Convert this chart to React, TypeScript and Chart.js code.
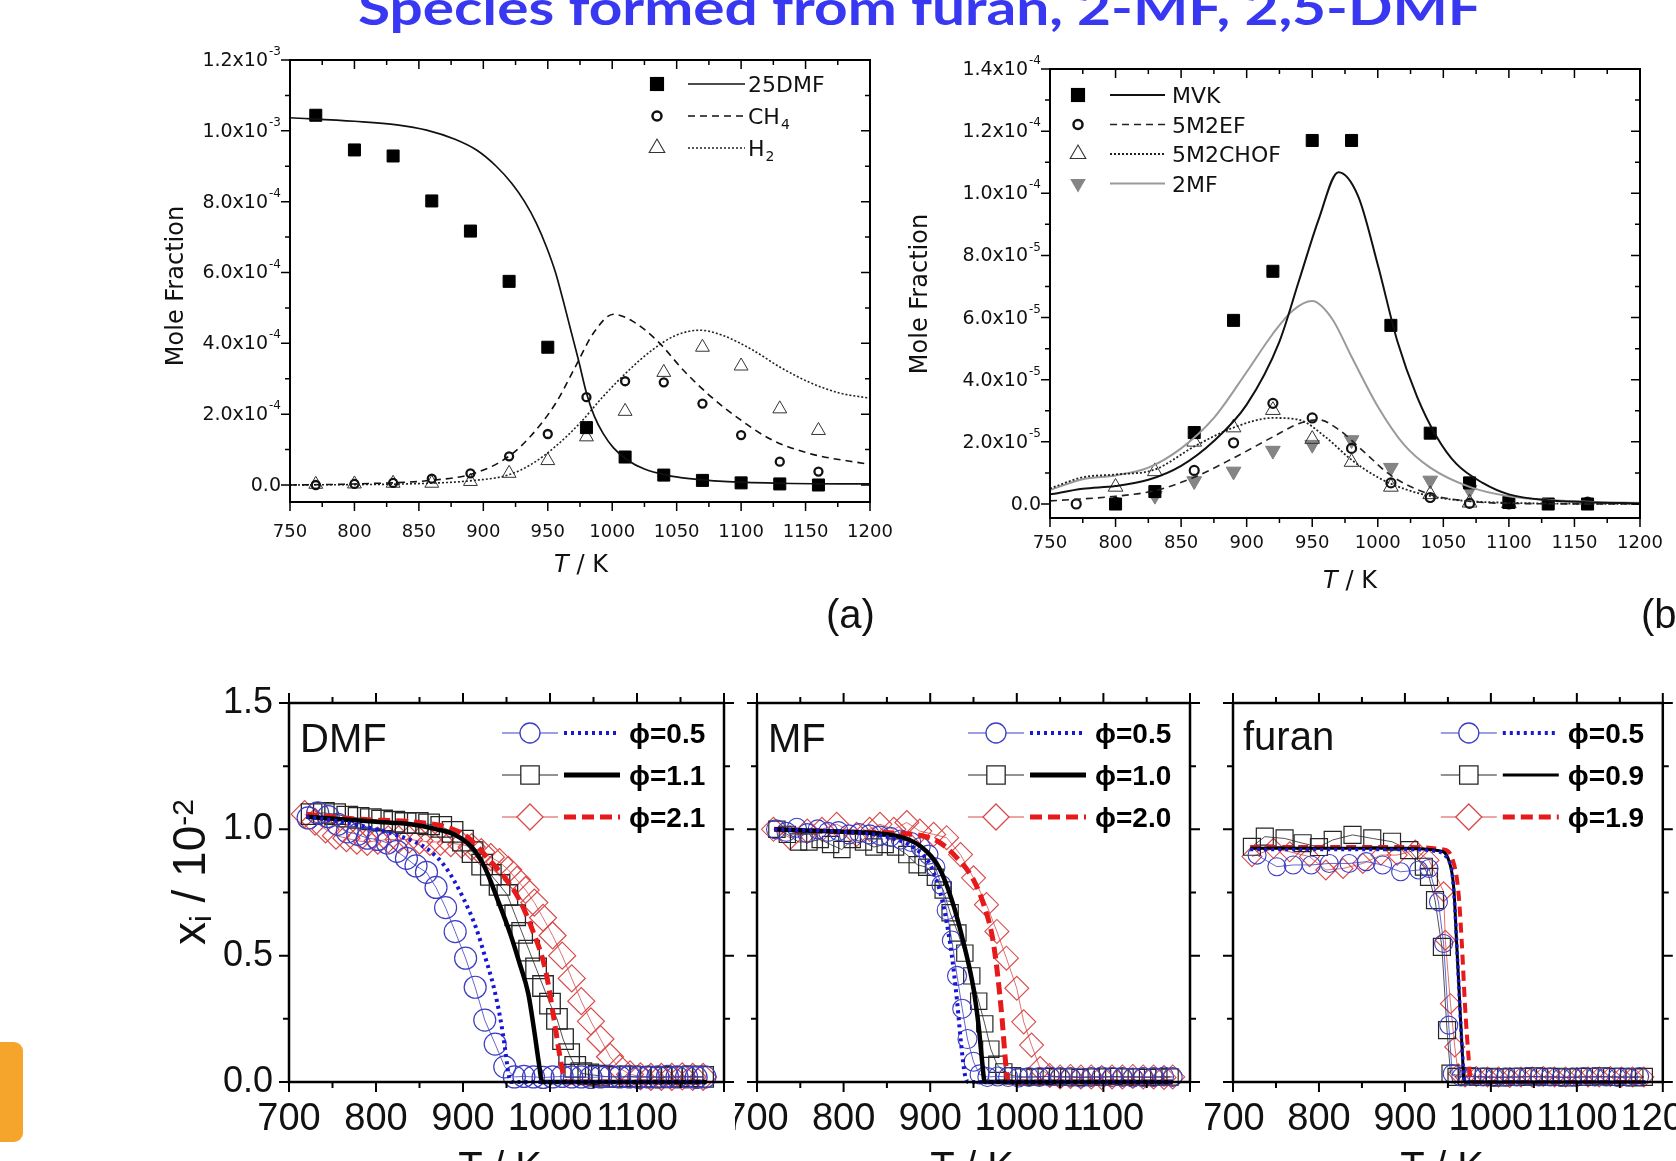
import React, { useEffect, useRef } from 'react';
import { Chart, registerables } from 'chart.js';
Chart.register(...registerables);

const FT = '"DejaVu Sans", sans-serif';
const FB = '"Liberation Sans", Arial, sans-serif';

// ---------------- Panel (a): mole fraction in units of 1e-3 ----------------
const aExpT = [770, 800, 830, 860, 890, 920, 950, 980, 1010, 1040, 1070, 1100, 1130, 1160];
const aExpDMF = [1.044, 0.946, 0.929, 0.802, 0.717, 0.575, 0.389, 0.162, 0.079, 0.028, 0.013, 0.006, 0.003, 0.0];
const aExpCH4 = [0.0, 0.003, 0.006, 0.018, 0.033, 0.081, 0.144, 0.248, 0.293, 0.29, 0.23, 0.141, 0.066, 0.038];
const aExpH2 = [0.002, 0.003, 0.005, 0.005, 0.01, 0.033, 0.069, 0.136, 0.208, 0.318, 0.389, 0.336, 0.215, 0.154];
const aModDMF_T = [750, 800, 833, 856, 878, 895, 910, 922, 932, 941, 949, 956, 962, 968, 974, 980, 986, 993, 1001, 1012, 1025, 1042, 1060, 1086, 1130, 1200];
const aModDMF = [1.037, 1.027, 1.017, 1.002, 0.976, 0.945, 0.9, 0.852, 0.8, 0.74, 0.672, 0.6, 0.52, 0.435, 0.35, 0.26, 0.195, 0.145, 0.105, 0.07, 0.045, 0.028, 0.018, 0.01, 0.005, 0.003];
const aModCH4_T = [750, 800, 859, 893, 919, 937, 956, 971, 986, 1001, 1016, 1035, 1056, 1078, 1101, 1123, 1153, 1200];
const aModCH4 = [0.0, 0.003, 0.013, 0.033, 0.079, 0.139, 0.23, 0.331, 0.432, 0.482, 0.462, 0.407, 0.321, 0.245, 0.18, 0.129, 0.089, 0.058];
const aModH2_T = [750, 850, 893, 919, 937, 956, 975, 993, 1012, 1031, 1049, 1068, 1086, 1109, 1131, 1153, 1176, 1200];
const aModH2 = [0.0, 0.004, 0.013, 0.028, 0.058, 0.109, 0.175, 0.25, 0.321, 0.381, 0.422, 0.437, 0.422, 0.381, 0.331, 0.29, 0.26, 0.245];
const aXTicks = [750, 800, 850, 900, 950, 1000, 1050, 1100, 1150, 1200];
const aYTickVals = [0, 0.2, 0.4, 0.6, 0.8, 1.0, 1.2];
const aYTickMant = ['0.0', '2.0', '4.0', '6.0', '8.0', '1.0', '1.2'];
const aYTickExp = ['', '-4', '-4', '-4', '-4', '-3', '-3'];
const aLegNames = ['25DMF', 'CH', 'H'];
const aLegSubs = ['', '4', '2'];

// ---------------- Panel (b): mole fraction in units of 1e-5 ----------------
const bMVK_T = [800, 830, 860, 890, 920, 950, 980, 1010, 1040, 1070, 1100, 1130, 1160];
const bMVK = [0.0, 0.4, 2.3, 5.91, 7.49, 11.7, 11.7, 5.75, 2.28, 0.68, 0.05, 0.0, 0.0];
const bEF_T = [770, 800, 830, 860, 890, 920, 950, 980, 1010, 1040, 1070, 1100, 1130, 1160];
const bEF = [0.0, 0.05, 0.37, 1.08, 1.97, 3.24, 2.77, 1.79, 0.68, 0.21, 0.02, 0.0, 0.0, 0.06];
const bCHOF_T = [800, 830, 860, 890, 920, 950, 980, 1010, 1040, 1070, 1100];
const bCHOF = [0.55, 1.05, 2.0, 2.46, 3.02, 2.09, 1.35, 0.55, 0.31, 0.04, 0.02];
const bMF_T = [830, 860, 890, 920, 950, 980, 1010, 1040, 1070];
const bMF = [0.27, 0.74, 1.05, 1.72, 1.91, 2.06, 1.17, 0.76, 0.46];
const bModMVK_T = [750, 775, 800, 825, 850, 875, 900, 925, 940, 955, 970, 985, 1000, 1015, 1030, 1045, 1060, 1080, 1100, 1130, 1160, 1200];
const bModMVK = [0.31, 0.49, 0.58, 0.78, 1.23, 2.03, 3.2, 5.23, 7.2, 9.17, 10.68, 9.91, 7.7, 5.23, 3.45, 2.16, 1.29, 0.68, 0.31, 0.12, 0.06, 0.02];
const bMod2MF_T = [750, 775, 800, 825, 850, 875, 900, 920, 935, 950, 965, 980, 1000, 1020, 1040, 1070, 1100, 1150, 1200];
const bMod2MF = [0.45, 0.8, 0.92, 1.17, 1.79, 2.77, 4.25, 5.48, 6.22, 6.53, 5.97, 4.74, 3.14, 1.91, 1.17, 0.55, 0.25, 0.09, 0.04];
const bModEF_T = [750, 800, 830, 860, 890, 920, 940, 955, 970, 990, 1010, 1040, 1070, 1100, 1200];
const bModEF = [0.1, 0.25, 0.43, 0.86, 1.48, 2.16, 2.59, 2.71, 2.4, 1.66, 0.92, 0.31, 0.09, 0.02, 0.0];
const bModCHOF_T = [750, 775, 800, 830, 860, 890, 920, 940, 960, 980, 1000, 1020, 1050, 1100, 1200];
const bModCHOF = [0.5, 0.86, 0.95, 1.11, 1.85, 2.46, 2.77, 2.71, 2.16, 1.42, 0.86, 0.49, 0.18, 0.04, 0.0];
const bYTickVals = [0, 2, 4, 6, 8, 10, 12, 14];
const bYTickMant = ['0.0', '2.0', '4.0', '6.0', '8.0', '1.0', '1.2', '1.4'];
const bYTickExp = ['', '-5', '-5', '-5', '-5', '-4', '-4', '-4'];
const bLegNames = ['MVK', '5M2EF', '5M2CHOF', '2MF'];

// ---------------- Bottom panels: x_i / 1e-2 ----------------
const botXTicks = [700, 800, 900, 1000, 1100, 1200];
const botYTicks = [0, 0.5, 1.0, 1.5];

const dmfCircT = [722, 733, 745, 756, 767, 779, 790, 802, 813, 824, 835, 846, 858, 869, 880, 891, 903, 914, 925, 937, 948, 959, 970, 981, 992, 1003, 1014, 1025, 1036, 1047, 1058, 1069, 1080, 1091, 1102, 1113, 1124, 1135, 1146, 1157, 1168, 1178];
const dmfCirc = [1.045, 1.065, 1.05, 1.02, 0.99, 0.98, 0.965, 0.96, 0.946, 0.913, 0.885, 0.855, 0.83, 0.77, 0.69, 0.595, 0.49, 0.375, 0.245, 0.15, 0.06, 0.02, 0.022, 0.02, 0.018, 0.02, 0.022, 0.02, 0.02, 0.018, 0.02, 0.022, 0.02, 0.02, 0.018, 0.02, 0.02, 0.022, 0.02, 0.02, 0.018, 0.02];
const dmfSqT = [726, 740, 753, 767, 780, 794, 807, 821, 834, 848, 861, 875, 888, 900, 911, 922, 932, 942, 951, 960, 968, 976, 984, 992, 1000, 1008, 1015, 1022, 1029, 1036, 1044, 1056, 1068, 1080, 1092, 1104, 1116, 1128, 1140, 1152, 1164, 1176];
const dmfSq = [1.06, 1.065, 1.06, 1.05, 1.045, 1.04, 1.035, 1.03, 1.025, 1.025, 1.02, 1.01, 0.99, 0.955, 0.91, 0.86, 0.82, 0.78, 0.74, 0.66, 0.59, 0.52, 0.45, 0.38, 0.31, 0.25, 0.17, 0.11, 0.06, 0.035, 0.03, 0.025, 0.02, 0.02, 0.022, 0.02, 0.02, 0.018, 0.02, 0.02, 0.022, 0.02];
const dmfDiaT = [718, 730, 742, 754, 766, 778, 790, 802, 814, 826, 838, 850, 862, 874, 886, 898, 910, 921, 932, 942, 952, 962, 972, 982, 992, 1003, 1014, 1025, 1036, 1047, 1058, 1069, 1080, 1092, 1104, 1116, 1128, 1140, 1152, 1164, 1176];
const dmfDia = [1.06, 1.03, 1.0, 0.975, 0.965, 0.955, 0.95, 0.955, 0.96, 0.96, 0.96, 0.955, 0.95, 0.95, 0.945, 0.94, 0.93, 0.91, 0.89, 0.87, 0.84, 0.8, 0.76, 0.71, 0.65, 0.58, 0.5, 0.41, 0.32, 0.24, 0.17, 0.1, 0.055, 0.03, 0.022, 0.02, 0.02, 0.02, 0.022, 0.02, 0.02];
const dmfMod05T = [720, 760, 800, 830, 860, 880, 900, 915, 925, 935, 943, 948, 952, 955, 1180];
const dmfMod05 = [1.05, 1.03, 1.0, 0.97, 0.92, 0.85, 0.73, 0.61, 0.5, 0.38, 0.25, 0.14, 0.04, 0.0, 0.0];
const dmfMod11T = [720, 760, 800, 840, 870, 890, 910, 925, 940, 955, 965, 975, 982, 987, 991, 1180];
const dmfMod11 = [1.05, 1.04, 1.03, 1.02, 1.0, 0.98, 0.93, 0.85, 0.72, 0.58, 0.47, 0.35, 0.2, 0.08, 0.0, 0.0];
const dmfMod21T = [720, 780, 840, 880, 905, 930, 950, 965, 980, 995, 1005, 1010, 1014, 1018, 1180];
const dmfMod21 = [1.06, 1.04, 1.03, 1.01, 0.97, 0.88, 0.8, 0.72, 0.6, 0.44, 0.24, 0.13, 0.05, 0.0, 0.0];
const dmfLegend = ['\u03D5=0.5', '\u03D5=1.1', '\u03D5=2.1'];

const mfCircT = [722, 734, 746, 758, 770, 782, 794, 806, 818, 830, 842, 854, 866, 878, 889, 898, 906, 913, 919, 925, 931, 937, 943, 950, 957, 966, 978, 990, 1002, 1014, 1026, 1038, 1050, 1062, 1074, 1086, 1098, 1110, 1122, 1134, 1146, 1158, 1170, 1180];
const mfCirc = [1.0, 0.99, 1.006, 0.985, 1.0, 0.99, 0.993, 0.98, 0.985, 0.98, 0.975, 0.97, 0.96, 0.95, 0.93, 0.9, 0.85, 0.78, 0.68, 0.56, 0.42, 0.29, 0.17, 0.08, 0.03, 0.02, 0.022, 0.02, 0.018, 0.02, 0.02, 0.022, 0.02, 0.02, 0.018, 0.02, 0.022, 0.02, 0.02, 0.018, 0.02, 0.02, 0.022, 0.02];
const mfSqT = [723, 735, 748, 760, 773, 785, 798, 810, 823, 835, 848, 860, 873, 885, 896, 906, 915, 923, 932, 940, 948, 956, 963, 970, 977, 985, 995, 1008, 1021, 1034, 1047, 1060, 1073, 1086, 1099, 1112, 1125, 1138, 1151, 1164, 1177];
const mfSq = [1.0, 0.98, 0.95, 0.95, 0.96, 0.94, 0.92, 0.96, 0.95, 0.93, 0.94, 0.93, 0.9, 0.86, 0.85, 0.81, 0.76, 0.67, 0.59, 0.51, 0.42, 0.32, 0.23, 0.13, 0.07, 0.04, 0.025, 0.02, 0.02, 0.022, 0.02, 0.02, 0.018, 0.02, 0.02, 0.022, 0.02, 0.02, 0.018, 0.02, 0.02];
const mfDiaT = [719, 738, 758, 775, 792, 815, 830, 842, 858, 873, 888, 904, 919, 935, 950, 965, 977, 988, 1000, 1008, 1017, 1027, 1038, 1050, 1062, 1074, 1086, 1098, 1110, 1122, 1134, 1146, 1158, 1170, 1180];
const mfDia = [1.0, 0.967, 0.993, 1.0, 1.02, 0.98, 1.0, 1.02, 1.0, 1.027, 0.993, 0.98, 0.967, 0.9, 0.808, 0.702, 0.596, 0.49, 0.371, 0.238, 0.146, 0.053, 0.026, 0.02, 0.022, 0.02, 0.02, 0.018, 0.02, 0.02, 0.022, 0.02, 0.02, 0.018, 0.02];
const mfMod05T = [720, 800, 850, 880, 900, 910, 918, 925, 931, 936, 940, 944, 1180];
const mfMod05 = [1.0, 0.99, 0.97, 0.93, 0.86, 0.77, 0.65, 0.5, 0.32, 0.14, 0.03, 0.0, 0.0];
const mfMod10T = [720, 800, 860, 890, 910, 925, 940, 950, 956, 960, 963, 1180];
const mfMod10 = [1.0, 0.99, 0.975, 0.93, 0.85, 0.72, 0.53, 0.37, 0.22, 0.08, 0.0, 0.0];
const mfMod20T = [720, 800, 880, 910, 930, 950, 962, 972, 978, 983, 987, 990, 1180];
const mfMod20 = [1.0, 0.99, 0.98, 0.95, 0.89, 0.8, 0.7, 0.57, 0.42, 0.25, 0.08, 0.0, 0.0];
const mfLegend = ['\u03D5=0.5', '\u03D5=1.0', '\u03D5=2.0'];

const fuCircT = [728, 751, 770, 791, 812, 835, 855, 874, 895, 916, 928, 939, 945, 951, 955, 965, 978, 991, 1004, 1017, 1030, 1043, 1056, 1069, 1082, 1095, 1108, 1121, 1134, 1147, 1160, 1173];
const fuCirc = [0.898, 0.852, 0.859, 0.859, 0.865, 0.865, 0.872, 0.859, 0.832, 0.839, 0.845, 0.713, 0.548, 0.225, 0.033, 0.02, 0.022, 0.02, 0.018, 0.02, 0.02, 0.022, 0.02, 0.02, 0.018, 0.02, 0.022, 0.02, 0.02, 0.018, 0.02, 0.022];
const fuSqT = [722, 737, 760, 781, 800, 816, 839, 862, 885, 905, 922, 928, 935, 943, 949, 953, 960, 972, 985, 998, 1011, 1024, 1037, 1050, 1063, 1076, 1089, 1102, 1115, 1128, 1141, 1154, 1167, 1178];
const fuSq = [0.931, 0.971, 0.964, 0.945, 0.93, 0.958, 0.978, 0.964, 0.951, 0.918, 0.852, 0.812, 0.72, 0.535, 0.205, 0.033, 0.02, 0.022, 0.02, 0.02, 0.018, 0.02, 0.02, 0.022, 0.02, 0.02, 0.018, 0.02, 0.02, 0.022, 0.02, 0.02, 0.018, 0.02];
const fuDiaT = [722, 747, 766, 789, 808, 828, 851, 872, 891, 912, 928, 945, 947, 953, 958, 962, 970, 983, 996, 1009, 1022, 1035, 1048, 1061, 1074, 1087, 1100, 1113, 1126, 1139, 1152, 1165, 1178];
const fuDia = [0.892, 0.925, 0.911, 0.892, 0.839, 0.845, 0.865, 0.898, 0.898, 0.918, 0.878, 0.753, 0.561, 0.31, 0.139, 0.033, 0.02, 0.022, 0.02, 0.02, 0.018, 0.02, 0.02, 0.022, 0.02, 0.02, 0.018, 0.02, 0.02, 0.022, 0.02, 0.02, 0.02];
const fuMod05T = [720, 800, 900, 940, 950, 955, 958, 962, 966, 970, 1180];
const fuMod05 = [0.92, 0.92, 0.92, 0.91, 0.88, 0.826, 0.694, 0.43, 0.165, 0.0, 0.0];
const fuMod09T = [720, 800, 900, 940, 951, 957, 960, 964, 967, 969, 1180];
const fuMod09 = [0.925, 0.925, 0.925, 0.915, 0.878, 0.76, 0.561, 0.297, 0.1, 0.0, 0.0];
const fuMod19T = [720, 800, 900, 945, 955, 962, 966, 970, 974, 977, 1180];
const fuMod19 = [0.93, 0.93, 0.93, 0.92, 0.885, 0.76, 0.561, 0.297, 0.1, 0.0, 0.0];
const fuLegend = ['\u03D5=0.5', '\u03D5=0.9', '\u03D5=1.9'];

// ---------------- colours ----------------
const C_BLUE_M = '#3d3dc4';
const C_BLACK_M = '#262626';
const C_RED_M = '#d94a4a';
const C_BLUE_L = '#1717d4';
const C_RED_L = '#e61a1a';

// ---------------- helpers ----------------
const xy = (xs: number[], ys: number[]) => xs.map((x, i) => ({ x, y: ys[i] }));
const mids = (a: number[]) => a.slice(1).map((v, i) => (v + a[i]) / 2);

function modelDs(xs: number[], ys: number[], color: string, width: number, dash: number[]) {
  return {
    data: xy(xs, ys), showLine: true, borderColor: color, borderWidth: width, borderDash: dash,
    pointRadius: 0, cubicInterpolationMode: 'monotone', fill: false, clip: false, borderCapStyle: 'butt',
  };
}
function markDs(xs: number[], ys: number[], style: string, r: number, color: string, bw: number, fill: string, lineW: number, rot = 0) {
  return {
    data: xy(xs, ys), showLine: lineW > 0, borderColor: color, borderWidth: lineW, pointStyle: style,
    pointRadius: r, pointBorderColor: color, pointBorderWidth: bw, pointBackgroundColor: fill,
    pointRotation: rot, tension: 0, clip: false,
  };
}

function drawMarker(ctx: any, style: string, x: number, y: number, r: number, stroke: string, fill: string | null, lw: number, down = false) {
  ctx.beginPath();
  if (style === 'circle') ctx.arc(x, y, r, 0, Math.PI * 2);
  else if (style === 'rect') { const s = r * Math.SQRT1_2; ctx.rect(x - s, y - s, 2 * s, 2 * s); }
  else if (style === 'rectRot') { ctx.moveTo(x - r, y); ctx.lineTo(x, y - r); ctx.lineTo(x + r, y); ctx.lineTo(x, y + r); ctx.closePath(); }
  else if (style === 'triangle') {
    const d = down ? -1 : 1;
    ctx.moveTo(x, y - d * r); ctx.lineTo(x + r * 0.866, y + d * r * 0.5); ctx.lineTo(x - r * 0.866, y + d * r * 0.5); ctx.closePath();
  }
  if (fill) { ctx.fillStyle = fill; ctx.fill(); }
  if (lw > 0) { ctx.setLineDash([]); ctx.strokeStyle = stroke; ctx.lineWidth = lw; ctx.stroke(); }
}
function hline(ctx: any, x1: number, x2: number, y: number, color: string, w: number, dash: number[]) {
  ctx.save(); ctx.beginPath(); ctx.strokeStyle = color; ctx.lineWidth = w; ctx.setLineDash(dash); ctx.lineCap = 'butt';
  ctx.moveTo(x1, y); ctx.lineTo(x2, y); ctx.stroke(); ctx.restore();
}

function frameAndTicks(chart: any, o: any) {
  const { ctx, chartArea: ca, scales } = chart;
  ctx.save();
  ctx.strokeStyle = '#000'; ctx.setLineDash([]);
  ctx.lineWidth = o.tw; ctx.beginPath();
  const xt = (v: number, len: number) => {
    const p = scales.x.getPixelForValue(v);
    ctx.moveTo(p, ca.bottom); ctx.lineTo(p, ca.bottom + o.b * len);
    ctx.moveTo(p, ca.top); ctx.lineTo(p, ca.top - o.t * len);
  };
  const yt = (v: number, len: number) => {
    const p = scales.y.getPixelForValue(v);
    ctx.moveTo(ca.left, p); ctx.lineTo(ca.left - o.l * len, p);
    ctx.moveTo(ca.right, p); ctx.lineTo(ca.right + o.r * len, p);
  };
  o.xMaj.forEach((v: number) => xt(v, o.maj));
  mids(o.xMaj).forEach((v: number) => xt(v, o.min));
  o.yMaj.forEach((v: number) => yt(v, o.maj));
  mids(o.yMaj).forEach((v: number) => yt(v, o.min));
  ctx.stroke();
  ctx.lineWidth = o.lw;
  ctx.strokeRect(ca.left, ca.top, ca.right - ca.left, ca.bottom - ca.top);
  ctx.restore();
}

function sciLabels(chart: any, vals: number[], mant: string[], exps: string[]) {
  const { ctx, chartArea: ca, scales } = chart;
  ctx.save(); ctx.fillStyle = '#111'; ctx.textBaseline = 'middle'; ctx.textAlign = 'left';
  vals.forEach((v, i) => {
    const py = scales.y.getPixelForValue(v);
    const main = exps[i] ? mant[i] + 'x10' : mant[i];
    ctx.font = '19px ' + FT; const mw = ctx.measureText(main).width;
    ctx.font = '12px ' + FT; const ew = exps[i] ? ctx.measureText(exps[i]).width + 1 : 0;
    const x0 = ca.left - 9 - mw - ew;
    ctx.font = '19px ' + FT; ctx.fillText(main, x0, py + 1);
    if (exps[i]) { ctx.font = '12px ' + FT; ctx.fillText(exps[i], x0 + mw + 1, py - 8); }
  });
  ctx.restore();
}

function topLegend(chart: any, items: any[], mx: number, y0: number, dy: number, l1: number, l2: number, tx: number) {
  const { ctx } = chart;
  items.forEach((it, i) => {
    const y = y0 + i * dy;
    ctx.save();
    drawMarker(ctx, it.m, mx, y, it.r, it.stroke, it.fill, it.lw, it.down);
    ctx.restore();
    hline(ctx, l1, l2, y, it.lc, it.lwid, it.dash);
    ctx.save(); ctx.fillStyle = '#111'; ctx.textBaseline = 'alphabetic'; ctx.textAlign = 'left';
    ctx.font = '22px ' + FT; ctx.fillText(it.name, tx, y + 8);
    if (it.sub) { const w = ctx.measureText(it.name).width; ctx.font = '14px ' + FT; ctx.fillText(it.sub, tx + w + 1, y + 13); }
    ctx.restore();
  });
}

function botLegend(chart: any, labels: string[], styles: any[]) {
  const { ctx, chartArea: ca } = chart;
  labels.forEach((lab, i) => {
    const st = styles[i];
    const y = ca.top + 30 + i * 42;
    hline(ctx, ca.right - 222, ca.right - 166, y, st.mc, 1, []);
    ctx.save(); drawMarker(ctx, st.m, ca.right - 194, y, st.lr, st.mc, '#fff', 1.3); ctx.restore();
    hline(ctx, ca.right - 160, ca.right - 104, y, st.lc, st.lw, st.dash);
    ctx.save(); ctx.fillStyle = '#000'; ctx.font = 'bold 28px ' + FB; ctx.textBaseline = 'alphabetic'; ctx.textAlign = 'left';
    ctx.fillText(lab, ca.right - 95, y + 10); ctx.restore();
  });
}

function buildChart(canvas: HTMLCanvasElement, s: any) {
  return new Chart(canvas, {
    type: 'scatter',
    data: { datasets: s.datasets },
    options: {
      responsive: false, animation: false, devicePixelRatio: 1, events: [],
      layout: { padding: { left: 0, top: s.padTop, right: s.padRight, bottom: 0 } },
      plugins: { legend: { display: false }, tooltip: { enabled: false }, title: { display: false } },
      scales: {
        x: {
          type: 'linear', position: 'bottom', min: s.xMin, max: s.xMax,
          grid: { display: false, drawTicks: false }, border: { display: false },
          ticks: { stepSize: s.xStep, autoSkip: false, maxRotation: 0, minRotation: 0, color: '#111', font: s.xFont, padding: s.xPad, callback: s.xCb },
          afterFit: (sc: any) => { sc.height = s.xH; sc.paddingLeft = 0; sc.paddingRight = 0; },
        },
        y: {
          type: 'linear', position: 'left', min: s.yMin, max: s.yMax,
          grid: { display: false, drawTicks: false }, border: { display: false },
          ticks: { display: s.yShow, stepSize: s.yStep, color: '#111', font: s.yFont, padding: s.yPad, callback: (v: any) => Number(v).toFixed(1) },
          afterFit: (sc: any) => { sc.width = s.yW; sc.paddingTop = 0; sc.paddingBottom = 0; },
        },
      },
    } as any,
    plugins: [{ id: 'deco', afterDraw: (c: any) => s.draw(c) }],
  });
}

const topTicks = (xMaj: number[], yMaj: number[]) => ({ lw: 2, tw: 1.5, maj: 9, min: 5, b: 1, t: -1, l: 1, r: -1, xMaj, yMaj });
const botTicks = { lw: 2.5, tw: 2, maj: 10, min: 6, b: 1, t: 1, l: 1, r: 1, xMaj: botXTicks, yMaj: botYTicks };

function bottomStyles(blackW: number) {
  return [
    { m: 'circle', mc: C_BLUE_M, lr: 10, lc: C_BLUE_L, lw: 4, dash: [3, 4] },
    { m: 'rect', mc: C_BLACK_M, lr: 13, lc: '#000', lw: blackW, dash: [] },
    { m: 'rectRot', mc: C_RED_M, lr: 13, lc: C_RED_L, lw: 5, dash: [12, 6] },
  ];
}

function makeSpecs() {
  const specA = {
    xMin: 750, xMax: 1200, xStep: 50, yMin: -0.048, yMax: 1.2, yStep: 0.2,
    yW: 140, xH: 138, padTop: 20, padRight: 40,
    xFont: { family: FT, size: 18 }, xPad: 20, xCb: (v: any) => String(v), yShow: false,
    datasets: [
      modelDs(aModDMF_T, aModDMF, '#111', 1.7, []),
      modelDs(aModCH4_T, aModCH4, '#111', 1.6, [7, 5]),
      modelDs(aModH2_T, aModH2, '#222', 1.6, [2, 2]),
      markDs(aExpT, aExpDMF, 'rect', 8.5, '#000', 1, '#000', 0),
      markDs(aExpT, aExpCH4, 'circle', 4, '#111', 2.3, 'rgba(0,0,0,0)', 0),
      markDs(aExpT, aExpH2, 'triangle', 8, '#333', 1, 'rgba(0,0,0,0)', 0),
    ],
    draw: (c: any) => {
      frameAndTicks(c, topTicks(aXTicks, aYTickVals));
      sciLabels(c, aYTickVals, aYTickMant, aYTickExp);
      const ca = c.chartArea;
      topLegend(c, [
        { name: aLegNames[0], sub: aLegSubs[0], m: 'rect', r: 10, stroke: '#000', fill: '#000', lw: 0, lc: '#111', lwid: 1.7, dash: [] },
        { name: aLegNames[1], sub: aLegSubs[1], m: 'circle', r: 4.5, stroke: '#111', fill: null, lw: 2.5, lc: '#111', lwid: 1.6, dash: [7, 5] },
        { name: aLegNames[2], sub: aLegSubs[2], m: 'triangle', r: 9, stroke: '#333', fill: null, lw: 1.1, lc: '#222', lwid: 1.6, dash: [2, 2] },
      ], ca.right - 213, ca.top + 24, 32, ca.right - 182, ca.right - 125, ca.right - 122);
    },
  };
  const specB = {
    xMin: 750, xMax: 1200, xStep: 50, yMin: -0.45, yMax: 14, yStep: 2,
    yW: 170, xH: 122, padTop: 29, padRight: 36,
    xFont: { family: FT, size: 18 }, xPad: 15, xCb: (v: any) => String(v), yShow: false,
    datasets: [
      modelDs(bModMVK_T, bModMVK, '#111', 2, []),
      modelDs(bModEF_T, bModEF, '#222', 1.6, [7, 5]),
      modelDs(bModCHOF_T, bModCHOF, '#222', 1.8, [2, 2]),
      modelDs(bMod2MF_T, bMod2MF, '#9a9a9a', 2, []),
      markDs(bMVK_T, bMVK, 'rect', 8.5, '#000', 1, '#000', 0),
      markDs(bEF_T, bEF, 'circle', 4.5, '#111', 2.2, 'rgba(0,0,0,0)', 0),
      markDs(bCHOF_T, bCHOF, 'triangle', 8.5, '#333', 1, 'rgba(0,0,0,0)', 0),
      markDs(bMF_T, bMF, 'triangle', 8.5, '#7f7f7f', 1, '#858585', 0, 180),
    ],
    draw: (c: any) => {
      frameAndTicks(c, topTicks(aXTicks, bYTickVals));
      sciLabels(c, bYTickVals, bYTickMant, bYTickExp);
      const ca = c.chartArea;
      topLegend(c, [
        { name: bLegNames[0], m: 'rect', r: 10, stroke: '#000', fill: '#000', lw: 0, lc: '#111', lwid: 2, dash: [] },
        { name: bLegNames[1], m: 'circle', r: 4.5, stroke: '#111', fill: null, lw: 2.5, lc: '#222', lwid: 1.6, dash: [7, 5] },
        { name: bLegNames[2], m: 'triangle', r: 9, stroke: '#333', fill: null, lw: 1.1, lc: '#222', lwid: 1.8, dash: [2, 2] },
        { name: bLegNames[3], m: 'triangle', r: 9, stroke: '#7f7f7f', fill: '#858585', lw: 0, lc: '#9a9a9a', lwid: 2, dash: [], down: true },
      ], ca.left + 28, ca.top + 26, 29.5, ca.left + 60, ca.left + 115, ca.left + 122);
    },
  };
  const botBase = {
    xMin: 700, xMax: 1200, xStep: 100, yMin: 0, yMax: 1.5, yStep: 0.5, xH: 79, padTop: 23,
    xFont: { family: FB, size: 38 }, xPad: 15, yFont: { family: FB, size: 36 }, yPad: 16,
  };
  const hide1200 = (v: any) => (Number(v) === 1200 ? '' : String(v));
  const specDMF = {
    ...botBase, yW: 149, padRight: 26, yShow: true, xCb: hide1200,
    datasets: [
      modelDs(dmfMod05T, dmfMod05, C_BLUE_L, 4, [3, 4]),
      modelDs(dmfMod11T, dmfMod11, '#000', 4.5, []),
      modelDs(dmfMod21T, dmfMod21, C_RED_L, 5, [12, 6]),
      markDs(dmfCircT, dmfCirc, 'circle', 11, C_BLUE_M, 1.2, 'rgba(0,0,0,0)', 0.8),
      markDs(dmfSqT, dmfSq, 'rect', 14.5, C_BLACK_M, 1.3, 'rgba(0,0,0,0)', 0.8),
      markDs(dmfDiaT, dmfDia, 'rectRot', 13.5, C_RED_M, 1.2, 'rgba(0,0,0,0)', 0.8),
    ],
    draw: (c: any) => { frameAndTicks(c, botTicks); botLegend(c, dmfLegend, bottomStyles(5)); },
  };
  const specMF = {
    ...botBase, yW: 22, padRight: 30, yShow: false, xCb: hide1200,
    datasets: [
      modelDs(mfMod05T, mfMod05, C_BLUE_L, 4, [3, 4]),
      modelDs(mfMod10T, mfMod10, '#000', 4.5, []),
      modelDs(mfMod20T, mfMod20, C_RED_L, 5, [12, 6]),
      markDs(mfCircT, mfCirc, 'circle', 9.5, C_BLUE_M, 1.1, 'rgba(0,0,0,0)', 0.8),
      markDs(mfSqT, mfSq, 'rect', 11.5, C_BLACK_M, 1.2, 'rgba(0,0,0,0)', 0.8),
      markDs(mfDiaT, mfDia, 'rectRot', 12, C_RED_M, 1.1, 'rgba(0,0,0,0)', 0.8),
    ],
    draw: (c: any) => { frameAndTicks(c, botTicks); botLegend(c, mfLegend, bottomStyles(5)); },
  };
  const specFU = {
    ...botBase, yW: 28, padRight: 11, yShow: false, xCb: (v: any) => String(v),
    datasets: [
      modelDs(fuMod05T, fuMod05, C_BLUE_L, 3.5, [3, 4]),
      modelDs(fuMod09T, fuMod09, '#000', 3, []),
      modelDs(fuMod19T, fuMod19, C_RED_L, 4, [10, 6]),
      markDs(fuCircT, fuCirc, 'circle', 9, C_BLUE_M, 1.1, 'rgba(0,0,0,0)', 0.8),
      markDs(fuSqT, fuSq, 'rect', 12, C_BLACK_M, 1.2, 'rgba(0,0,0,0)', 0.8),
      markDs(fuDiaT, fuDia, 'rectRot', 10, C_RED_M, 1.1, 'rgba(0,0,0,0)', 0.8),
    ],
    draw: (c: any) => { frameAndTicks(c, botTicks); botLegend(c, fuLegend, bottomStyles(3)); },
  };
  return [specA, specB, specDMF, specMF, specFU];
}

const CANVASES = [
  { left: 150, top: 40, w: 760, h: 600 },
  { left: 880, top: 40, w: 796, h: 600 },
  { left: 140, top: 680, w: 610, h: 481 },
  { left: 735, top: 680, w: 485, h: 481 },
  { left: 1205, top: 680, w: 471, h: 481 },
];

export default function App() {
  const r0 = useRef<HTMLCanvasElement>(null);
  const r1 = useRef<HTMLCanvasElement>(null);
  const r2 = useRef<HTMLCanvasElement>(null);
  const r3 = useRef<HTMLCanvasElement>(null);
  const r4 = useRef<HTMLCanvasElement>(null);
  const refs = [r0, r1, r2, r3, r4];

  useEffect(() => {
    const specs = makeSpecs();
    const charts = specs.map((s, i) => buildChart(refs[i].current as HTMLCanvasElement, s));
    return () => charts.forEach((c) => c.destroy());
  }, []);

  const SANS = "'Liberation Sans', Arial, sans-serif";
  return (
    <div style={{ position: 'absolute', left: 0, top: 0, width: 1676, height: 1161, overflow: 'hidden', background: '#fff' }}>
      {CANVASES.map((c, i) => (
        <canvas key={i} ref={refs[i]} width={c.w} height={c.h}
          style={{ position: 'absolute', left: c.left, top: c.top, width: c.w, height: c.h }} />
      ))}
      <svg width={1676} height={1161} style={{ position: 'absolute', left: 0, top: 0, pointerEvents: 'none' }}>
        <rect x={-12} y={1042} width={35} height={100} rx={9} fill="#F5A52C" />
        <text x={919.5} y={25} textAnchor="middle" fontFamily="Lato, 'Liberation Sans', sans-serif" fontWeight={700}
          fontSize={48} fill="#3838F2" textLength={1123} lengthAdjust="spacingAndGlyphs">Species formed from furan, 2-MF, 2,5-DMF</text>
        <text x={183} y={286} transform="rotate(-90 183 286)" textAnchor="middle" fontFamily="DejaVu Sans" fontSize={24} fill="#111">Mole Fraction</text>
        <text x={927} y={294} transform="rotate(-90 927 294)" textAnchor="middle" fontFamily="DejaVu Sans" fontSize={24} fill="#111">Mole Fraction</text>
        <text x={581} y={572} textAnchor="middle" fontFamily="DejaVu Sans" fontSize={24} fill="#111"><tspan fontStyle="italic">T</tspan> / K</text>
        <text x={1350} y={588} textAnchor="middle" fontFamily="DejaVu Sans" fontSize={24} fill="#111"><tspan fontStyle="italic">T</tspan> / K</text>
        <text x={826} y={628} fontFamily={SANS} fontSize={40} fill="#111">(a)</text>
        <text x={1641} y={628} fontFamily={SANS} fontSize={40} fill="#111">(b)</text>
        <text x={205} y={872} transform="rotate(-90 205 872)" textAnchor="middle" fontFamily={SANS} fontSize={46} fill="#111">
          x<tspan fontSize={30} dy={6}>i</tspan><tspan dy={-6}> / 10</tspan><tspan fontSize={30} dy={-12}>-2</tspan>
        </text>
        <text x={300} y={752} fontFamily={SANS} fontSize={40} fill="#111">DMF</text>
        <text x={768} y={752} fontFamily={SANS} fontSize={40} fill="#111">MF</text>
        <text x={1243} y={750} fontFamily={SANS} fontSize={40} fill="#111">furan</text>
        <text x={500} y={1180} textAnchor="middle" fontFamily={SANS} fontSize={40} fill="#111">T / K</text>
        <text x={972} y={1180} textAnchor="middle" fontFamily={SANS} fontSize={40} fill="#111">T / K</text>
        <text x={1442} y={1180} textAnchor="middle" fontFamily={SANS} fontSize={40} fill="#111">T / K</text>
      </svg>
    </div>
  );
}
